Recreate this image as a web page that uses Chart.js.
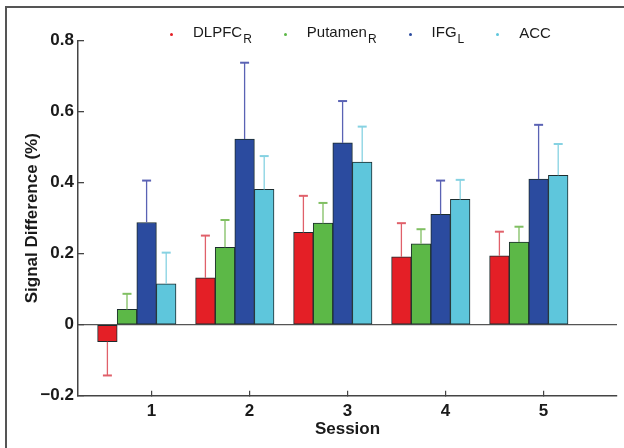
<!DOCTYPE html>
<html>
<head>
<meta charset="utf-8">
<script src="https://cdn.jsdelivr.net/npm/chart.js@4/dist/chart.umd.min.js"></script>
<style>
  html, body { margin: 0; padding: 0; background: #fff; }
  #wrap { position: relative; width: 624px; height: 448px; overflow: hidden; }
  #frame { position: absolute; left: 5px; top: 6px; width: 640px; height: 460px;
           border-left: 2px solid #555; border-top: 2px solid #555; }
  #chart { position: absolute; left: 0; top: 0; }
  #legend { position: absolute; left: 170px; top: 23px; display: flex; align-items: center;
            font-family: "Liberation Sans", Arial, sans-serif; font-size: 15px; line-height: 17px; color: #1a1a1a; }
  #legend .item { display: flex; align-items: center; margin-right: 32px; white-space: nowrap; }
  #legend .dot { width: 3px; height: 3px; border-radius: 50%; margin-right: 20px; margin-top: 3px; }
  #legend sub { font-size: 12px; vertical-align: baseline; position: relative; top: 6px; margin-left: 1px; }
</style>
</head>
<body>
<div id="wrap">
  <canvas id="chart" width="624" height="448"></canvas>
  <div id="frame"></div>
  <div id="legend"></div>
</div>
<script>
const sessions = [1, 2, 3, 4, 5];
const regionNames = ['DLPFC', 'Putamen', 'IFG', 'ACC'];
const regionSubs = ['R', 'R', 'L', ''];
const yTicks = [-0.2, 0, 0.2, 0.4, 0.6, 0.8];

// mean signal difference per session
const dlpfcR = [-0.048, 0.132, 0.260, 0.191, 0.194];
const putamenR = [0.043, 0.218, 0.286, 0.228, 0.233];
const ifgL = [0.288, 0.523, 0.512, 0.311, 0.410];
const acc = [0.115, 0.381, 0.458, 0.353, 0.421];

// error bar lengths
const dlpfcErr = [0.095, 0.119, 0.103, 0.095, 0.068];
const putamenErr = [0.044, 0.077, 0.057, 0.041, 0.043];
const ifgErr = [0.118, 0.215, 0.118, 0.095, 0.153];
const accErr = [0.088, 0.094, 0.100, 0.055, 0.088];

const fillColors = ['#e41f26', '#5cb847', '#2b4b9f', '#5ec6dc'];
const errColors = ['#e0606a', '#80bf62', '#5a62b4', '#86d2e2'];
const groupShift = -0.15;   // bars sit a little left of the session tick
const font = '"Liberation Sans", Arial, sans-serif';

function points(vals) {
    return sessions.map((s, i) => ({ x: s + groupShift, y: vals[i] }));
}

const series = [dlpfcR, putamenR, ifgL, acc];
const errors = [dlpfcErr, putamenErr, ifgErr, accErr];

const datasets = series.map((vals, k) => ({
    label: regionNames[k] + regionSubs[k],
    data: points(vals),
    errors: errors[k],
    errColor: errColors[k],
    backgroundColor: fillColors[k],
    borderColor: '#1c2c2e',
    borderWidth: 1,
    borderSkipped: false,
    barThickness: 19.6
}));

// html legend so the subscripts stay real text
const legend = document.getElementById('legend');
regionNames.forEach((name, k) => {
    const item = document.createElement('div');
    item.className = 'item';
    item.innerHTML = `<span class="dot" style="background:${fillColors[k]}"></span><span>${name}${regionSubs[k] ? '<sub>' + regionSubs[k] + '</sub>' : ''}</span>`;
    legend.appendChild(item);
});

const errorBars = {
    id: 'errorBars',
    afterDatasetsDraw(chart) {
        const ctx = chart.ctx;
        const y = chart.scales.y;
        chart.data.datasets.forEach((ds, di) => {
            const meta = chart.getDatasetMeta(di);
            meta.data.forEach((bar, i) => {
                const v = ds.data[i].y;
                const e = ds.errors[i];
                const end = y.getPixelForValue(v < 0 ? v - e : v + e);
                ctx.save();
                ctx.strokeStyle = ds.errColor;
                ctx.lineWidth = 1.3;
                ctx.beginPath();
                ctx.moveTo(bar.x, bar.y);
                ctx.lineTo(bar.x, end);
                ctx.stroke();
                ctx.lineWidth = 2;
                ctx.beginPath();
                ctx.moveTo(bar.x - 4.5, end);
                ctx.lineTo(bar.x + 4.5, end);
                ctx.stroke();
                ctx.restore();
            });
        });
    }
};

new Chart(document.getElementById('chart'), {
    type: 'bar',
    data: { datasets },
    options: {
        responsive: false,
        animation: false,
        devicePixelRatio: 1,
        layout: { padding: { left: 7, top: 40.7, right: 7, bottom: 0 } },
        plugins: { legend: { display: false }, tooltip: { enabled: false } },
        scales: {
            x: {
                type: 'linear',
                offset: false,
                min: 0.25,
                max: 5.75,
                afterBuildTicks: axis => { axis.ticks = sessions.map(v => ({ value: v })); },
                afterFit: axis => { axis.height = 52.3; },
                grid: { offset: false, drawOnChartArea: false, tickLength: -5, color: '#444', tickColor: '#444', lineWidth: 1.2 },
                border: { color: '#444', width: 1.5 },
                ticks: { padding: 10, color: '#1a1a1a', font: { family: font, size: 17, weight: 'bold' },
                         callback: v => String(v) },
                title: { display: true, text: 'Session', color: '#1a1a1a',
                         font: { family: font, size: 17, weight: 'bold' }, padding: { top: 0, bottom: 8 } }
            },
            y: {
                min: -0.2,
                max: 0.8,
                afterBuildTicks: axis => { axis.ticks = yTicks.map(v => ({ value: v })); },
                afterFit: axis => { axis.width = 71; },
                grid: {
                    color: c => (c.tick && c.tick.value === 0 ? '#555' : 'rgba(0,0,0,0)'),
                    tickColor: '#444', tickLength: -6, lineWidth: 1.3
                },
                border: { color: '#444', width: 1.5 },
                ticks: { padding: 10, color: '#1a1a1a', font: { family: font, size: 17, weight: 'bold' },
                         callback: v => (v === 0 ? '0' : (v < 0 ? '\u2212' + Math.abs(v).toFixed(1) : v.toFixed(1))) },
                title: { display: true, text: 'Signal Difference (%)', color: '#1a1a1a',
                         font: { family: font, size: 17, weight: 'bold' }, padding: { top: 15, bottom: 0 } }
            }
        }
    },
    plugins: [errorBars]
});
</script>
</body>
</html>
